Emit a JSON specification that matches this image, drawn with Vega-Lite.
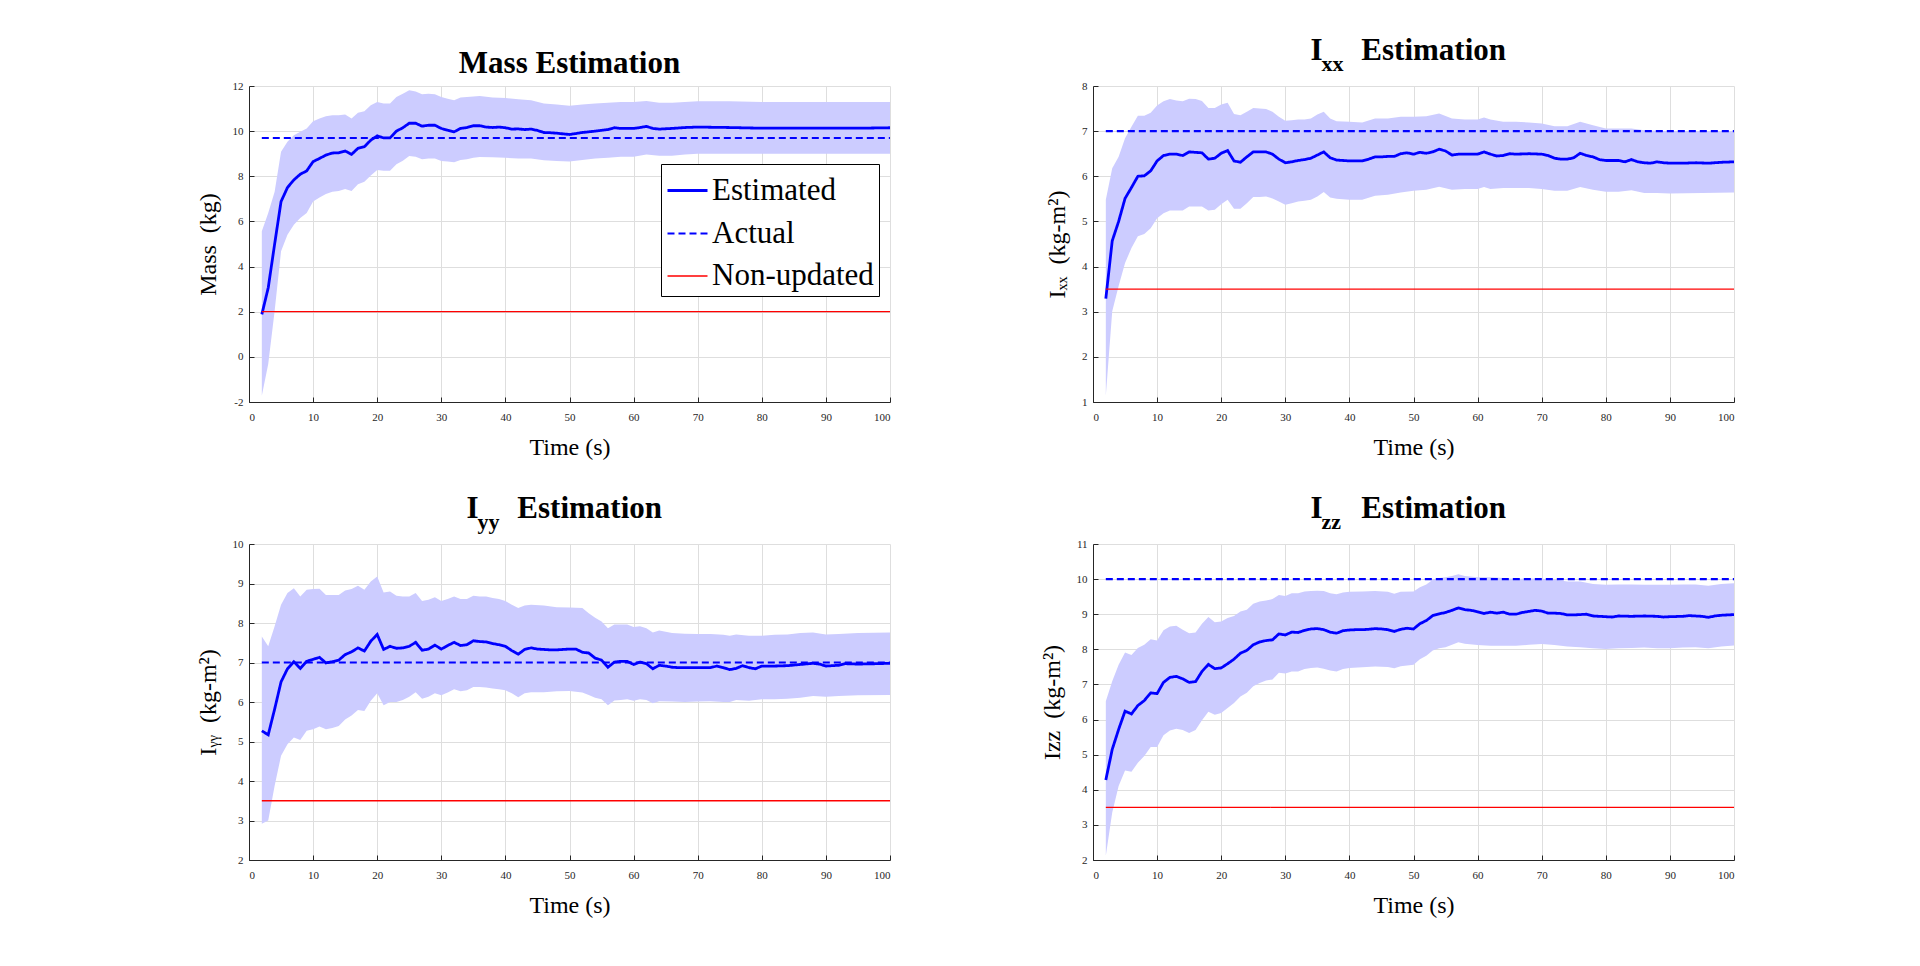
{
  "$schema": "https://vega.github.io/schema/vega-lite/v6.json",
  "background": "white",
  "padding": {"left": 196, "top": 35, "right": 5, "bottom": 5},
  "columns": 2,
  "bounds": "flush",
  "spacing": {"row": 142, "column": 203},
  "datasets": {
    "massBand": [
      {"t":2,"lower":-1.72,"upper":5.56},{"t":3,"lower":-0.32,"upper":6.37},{"t":4,"lower":2.03,"upper":7.32},{"t":5,"lower":4.68,"upper":9.09},
      {"t":6,"lower":5.41,"upper":9.53},{"t":7,"lower":5.85,"upper":9.82},{"t":8,"lower":6.15,"upper":9.97},{"t":9,"lower":6.37,"upper":10.12},
      {"t":10,"lower":6.88,"upper":10.44},{"t":11,"lower":7.06,"upper":10.56},{"t":12,"lower":7.21,"upper":10.66},{"t":13,"lower":7.32,"upper":10.7},
      {"t":14,"lower":7.35,"upper":10.7},{"t":15,"lower":7.44,"upper":10.74},{"t":16,"lower":7.35,"upper":10.56},{"t":17,"lower":7.65,"upper":10.81},
      {"t":18,"lower":7.76,"upper":10.88},{"t":19,"lower":8.03,"upper":11.15},{"t":20,"lower":8.28,"upper":11.29},{"t":21,"lower":8.24,"upper":11.22},
      {"t":22,"lower":8.24,"upper":11.22},{"t":23,"lower":8.53,"upper":11.51},{"t":24,"lower":8.69,"upper":11.66},{"t":25,"lower":8.9,"upper":11.81},
      {"t":26,"lower":8.87,"upper":11.76},{"t":27,"lower":8.75,"upper":11.63},{"t":28,"lower":8.79,"upper":11.66},{"t":29,"lower":8.79,"upper":11.63},
      {"t":30,"lower":8.68,"upper":11.51},{"t":31,"lower":8.65,"upper":11.44},{"t":32,"lower":8.62,"upper":11.37},{"t":33,"lower":8.72,"upper":11.49},
      {"t":34,"lower":8.76,"upper":11.51},{"t":35,"lower":8.82,"upper":11.54},{"t":36,"lower":8.85,"upper":11.56},{"t":38,"lower":8.84,"upper":11.49},
      {"t":40,"lower":8.82,"upper":11.47},{"t":42,"lower":8.79,"upper":11.41},{"t":44,"lower":8.79,"upper":11.37},{"t":46,"lower":8.71,"upper":11.22},
      {"t":48,"lower":8.68,"upper":11.18},{"t":50,"lower":8.65,"upper":11.12},{"t":52,"lower":8.72,"upper":11.18},{"t":54,"lower":8.79,"upper":11.22},
      {"t":56,"lower":8.82,"upper":11.26},{"t":58,"lower":8.87,"upper":11.29},{"t":60,"lower":8.87,"upper":11.29},{"t":62,"lower":8.97,"upper":11.34},
      {"t":64,"lower":8.91,"upper":11.26},{"t":66,"lower":8.91,"upper":11.26},{"t":68,"lower":8.97,"upper":11.29},{"t":70,"lower":9.0,"upper":11.32},
      {"t":75,"lower":9.0,"upper":11.32},{"t":80,"lower":9.0,"upper":11.29},{"t":90,"lower":9.0,"upper":11.29},{"t":100,"lower":9.0,"upper":11.29}
    ],
    "massLine": [
      {"s":"Estimated","t":2,"value":1.88},{"s":"Estimated","t":3,"value":3.06},{"s":"Estimated","t":4,"value":5.0},{"s":"Estimated","t":5,"value":6.88},
      {"s":"Estimated","t":6,"value":7.5},{"s":"Estimated","t":7,"value":7.84},{"s":"Estimated","t":8,"value":8.09},{"s":"Estimated","t":9,"value":8.24},
      {"s":"Estimated","t":10,"value":8.65},{"s":"Estimated","t":11,"value":8.79},{"s":"Estimated","t":12,"value":8.94},{"s":"Estimated","t":13,"value":9.03},
      {"s":"Estimated","t":14,"value":9.04},{"s":"Estimated","t":15,"value":9.12},{"s":"Estimated","t":16,"value":8.97},{"s":"Estimated","t":17,"value":9.24},
      {"s":"Estimated","t":18,"value":9.31},{"s":"Estimated","t":19,"value":9.6},{"s":"Estimated","t":20,"value":9.79},{"s":"Estimated","t":21,"value":9.7},
      {"s":"Estimated","t":22,"value":9.7},{"s":"Estimated","t":23,"value":10.0},{"s":"Estimated","t":24,"value":10.15},{"s":"Estimated","t":25,"value":10.35},
      {"s":"Estimated","t":26,"value":10.35},{"s":"Estimated","t":27,"value":10.22},{"s":"Estimated","t":28,"value":10.26},{"s":"Estimated","t":29,"value":10.26},
      {"s":"Estimated","t":30,"value":10.12},{"s":"Estimated","t":31,"value":10.04},{"s":"Estimated","t":32,"value":9.97},{"s":"Estimated","t":33,"value":10.12},
      {"s":"Estimated","t":34,"value":10.16},{"s":"Estimated","t":35,"value":10.24},{"s":"Estimated","t":36,"value":10.24},{"s":"Estimated","t":37,"value":10.18},
      {"s":"Estimated","t":38,"value":10.16},{"s":"Estimated","t":39,"value":10.18},{"s":"Estimated","t":40,"value":10.15},{"s":"Estimated","t":41,"value":10.09},
      {"s":"Estimated","t":42,"value":10.1},{"s":"Estimated","t":43,"value":10.07},{"s":"Estimated","t":44,"value":10.09},{"s":"Estimated","t":45,"value":10.03},
      {"s":"Estimated","t":46,"value":9.94},{"s":"Estimated","t":47,"value":9.93},{"s":"Estimated","t":48,"value":9.91},{"s":"Estimated","t":49,"value":9.88},
      {"s":"Estimated","t":50,"value":9.85},{"s":"Estimated","t":52,"value":9.94},{"s":"Estimated","t":54,"value":10.0},{"s":"Estimated","t":56,"value":10.07},
      {"s":"Estimated","t":57,"value":10.15},{"s":"Estimated","t":58,"value":10.12},{"s":"Estimated","t":60,"value":10.12},{"s":"Estimated","t":61,"value":10.16},
      {"s":"Estimated","t":62,"value":10.21},{"s":"Estimated","t":63,"value":10.12},{"s":"Estimated","t":64,"value":10.09},{"s":"Estimated","t":66,"value":10.12},
      {"s":"Estimated","t":68,"value":10.16},{"s":"Estimated","t":70,"value":10.18},{"s":"Estimated","t":75,"value":10.16},{"s":"Estimated","t":80,"value":10.13},
      {"s":"Estimated","t":85,"value":10.13},{"s":"Estimated","t":90,"value":10.13},{"s":"Estimated","t":95,"value":10.13},{"s":"Estimated","t":100,"value":10.15},
      {"s":"Actual","t":2,"value":9.7},{"s":"Actual","t":100,"value":9.7},
      {"s":"Non-updated","t":2,"value":2},{"s":"Non-updated","t":100,"value":2}
    ],
    "ixxBand": [
      {"t":2,"lower":1.14,"upper":5.48},{"t":3,"lower":3.01,"upper":6.18},{"t":4,"lower":3.57,"upper":6.43},{"t":5,"lower":4.08,"upper":6.84},
      {"t":6,"lower":4.41,"upper":7.1},{"t":7,"lower":4.67,"upper":7.34},{"t":8,"lower":4.72,"upper":7.34},{"t":9,"lower":4.85,"upper":7.41},
      {"t":10,"lower":5.07,"upper":7.57},{"t":11,"lower":5.18,"upper":7.66},{"t":12,"lower":5.24,"upper":7.71},{"t":13,"lower":5.24,"upper":7.68},
      {"t":14,"lower":5.24,"upper":7.66},{"t":15,"lower":5.33,"upper":7.72},{"t":16,"lower":5.33,"upper":7.71},{"t":17,"lower":5.33,"upper":7.67},
      {"t":18,"lower":5.24,"upper":7.51},{"t":19,"lower":5.26,"upper":7.51},{"t":20,"lower":5.38,"upper":7.59},{"t":21,"lower":5.48,"upper":7.63},
      {"t":22,"lower":5.28,"upper":7.38},{"t":23,"lower":5.28,"upper":7.35},{"t":24,"lower":5.4,"upper":7.43},{"t":25,"lower":5.54,"upper":7.51},
      {"t":26,"lower":5.54,"upper":7.5},{"t":27,"lower":5.55,"upper":7.49},{"t":28,"lower":5.51,"upper":7.43},{"t":29,"lower":5.44,"upper":7.32},
      {"t":30,"lower":5.37,"upper":7.23},{"t":31,"lower":5.4,"upper":7.24},{"t":32,"lower":5.44,"upper":7.26},{"t":33,"lower":5.46,"upper":7.26},
      {"t":34,"lower":5.48,"upper":7.28},{"t":35,"lower":5.55,"upper":7.37},{"t":36,"lower":5.65,"upper":7.43},{"t":37,"lower":5.53,"upper":7.28},
      {"t":38,"lower":5.5,"upper":7.22},{"t":40,"lower":5.48,"upper":7.21},{"t":42,"lower":5.48,"upper":7.19},{"t":44,"lower":5.57,"upper":7.28},
      {"t":46,"lower":5.59,"upper":7.28},{"t":48,"lower":5.64,"upper":7.32},{"t":50,"lower":5.68,"upper":7.32},{"t":52,"lower":5.7,"upper":7.33},
      {"t":54,"lower":5.77,"upper":7.39},{"t":56,"lower":5.7,"upper":7.28},{"t":58,"lower":5.72,"upper":7.26},{"t":60,"lower":5.72,"upper":7.26},
      {"t":61,"lower":5.76,"upper":7.3},{"t":62,"lower":5.72,"upper":7.26},{"t":64,"lower":5.74,"upper":7.21},{"t":66,"lower":5.74,"upper":7.21},
      {"t":68,"lower":5.74,"upper":7.19},{"t":70,"lower":5.72,"upper":7.17},{"t":72,"lower":5.68,"upper":7.11},{"t":74,"lower":5.68,"upper":7.11},
      {"t":76,"lower":5.76,"upper":7.21},{"t":78,"lower":5.7,"upper":7.13},{"t":80,"lower":5.66,"upper":7.06},{"t":82,"lower":5.66,"upper":7.06},
      {"t":84,"lower":5.69,"upper":7.06},{"t":86,"lower":5.63,"upper":7.02},{"t":88,"lower":5.63,"upper":7.01},{"t":90,"lower":5.62,"upper":7.0},
      {"t":95,"lower":5.63,"upper":7.0},{"t":100,"lower":5.64,"upper":7.0}
    ],
    "ixxLine": [
      {"s":"Estimated","t":2,"value":3.29},{"s":"Estimated","t":3,"value":4.57},{"s":"Estimated","t":4,"value":5.0},{"s":"Estimated","t":5,"value":5.51},
      {"s":"Estimated","t":6,"value":5.75},{"s":"Estimated","t":7,"value":6.0},{"s":"Estimated","t":8,"value":6.01},{"s":"Estimated","t":9,"value":6.12},
      {"s":"Estimated","t":10,"value":6.34},{"s":"Estimated","t":11,"value":6.46},{"s":"Estimated","t":12,"value":6.49},{"s":"Estimated","t":13,"value":6.49},
      {"s":"Estimated","t":14,"value":6.46},{"s":"Estimated","t":15,"value":6.54},{"s":"Estimated","t":16,"value":6.53},{"s":"Estimated","t":17,"value":6.52},
      {"s":"Estimated","t":18,"value":6.38},{"s":"Estimated","t":19,"value":6.4},{"s":"Estimated","t":20,"value":6.51},{"s":"Estimated","t":21,"value":6.57},
      {"s":"Estimated","t":22,"value":6.34},{"s":"Estimated","t":23,"value":6.31},{"s":"Estimated","t":24,"value":6.43},{"s":"Estimated","t":25,"value":6.54},
      {"s":"Estimated","t":26,"value":6.54},{"s":"Estimated","t":27,"value":6.54},{"s":"Estimated","t":28,"value":6.49},{"s":"Estimated","t":29,"value":6.38},
      {"s":"Estimated","t":30,"value":6.3},{"s":"Estimated","t":31,"value":6.32},{"s":"Estimated","t":32,"value":6.35},{"s":"Estimated","t":33,"value":6.37},
      {"s":"Estimated","t":34,"value":6.4},{"s":"Estimated","t":35,"value":6.47},{"s":"Estimated","t":36,"value":6.54},{"s":"Estimated","t":37,"value":6.41},
      {"s":"Estimated","t":38,"value":6.36},{"s":"Estimated","t":39,"value":6.35},{"s":"Estimated","t":40,"value":6.34},{"s":"Estimated","t":41,"value":6.34},
      {"s":"Estimated","t":42,"value":6.34},{"s":"Estimated","t":43,"value":6.38},{"s":"Estimated","t":44,"value":6.43},{"s":"Estimated","t":45,"value":6.43},
      {"s":"Estimated","t":46,"value":6.44},{"s":"Estimated","t":47,"value":6.44},{"s":"Estimated","t":48,"value":6.5},{"s":"Estimated","t":49,"value":6.52},
      {"s":"Estimated","t":50,"value":6.49},{"s":"Estimated","t":51,"value":6.53},{"s":"Estimated","t":52,"value":6.51},{"s":"Estimated","t":53,"value":6.54},
      {"s":"Estimated","t":54,"value":6.6},{"s":"Estimated","t":55,"value":6.56},{"s":"Estimated","t":56,"value":6.47},{"s":"Estimated","t":57,"value":6.49},
      {"s":"Estimated","t":58,"value":6.49},{"s":"Estimated","t":59,"value":6.49},{"s":"Estimated","t":60,"value":6.49},{"s":"Estimated","t":61,"value":6.54},
      {"s":"Estimated","t":62,"value":6.49},{"s":"Estimated","t":63,"value":6.45},{"s":"Estimated","t":64,"value":6.46},{"s":"Estimated","t":65,"value":6.5},
      {"s":"Estimated","t":66,"value":6.49},{"s":"Estimated","t":68,"value":6.5},{"s":"Estimated","t":70,"value":6.49},{"s":"Estimated","t":71,"value":6.46},
      {"s":"Estimated","t":72,"value":6.4},{"s":"Estimated","t":73,"value":6.38},{"s":"Estimated","t":74,"value":6.38},{"s":"Estimated","t":75,"value":6.41},
      {"s":"Estimated","t":76,"value":6.51},{"s":"Estimated","t":77,"value":6.46},{"s":"Estimated","t":78,"value":6.43},{"s":"Estimated","t":79,"value":6.37},
      {"s":"Estimated","t":80,"value":6.35},{"s":"Estimated","t":81,"value":6.35},{"s":"Estimated","t":82,"value":6.35},{"s":"Estimated","t":83,"value":6.32},
      {"s":"Estimated","t":84,"value":6.37},{"s":"Estimated","t":85,"value":6.32},{"s":"Estimated","t":86,"value":6.3},{"s":"Estimated","t":87,"value":6.29},
      {"s":"Estimated","t":88,"value":6.32},{"s":"Estimated","t":89,"value":6.3},{"s":"Estimated","t":90,"value":6.29},{"s":"Estimated","t":92,"value":6.29},
      {"s":"Estimated","t":94,"value":6.3},{"s":"Estimated","t":96,"value":6.29},{"s":"Estimated","t":98,"value":6.31},{"s":"Estimated","t":100,"value":6.32},
      {"s":"Actual","t":2,"value":7},{"s":"Actual","t":100,"value":7},
      {"s":"Non-updated","t":2,"value":3.5},{"s":"Non-updated","t":100,"value":3.5}
    ],
    "iyyBand": [
      {"t":2,"lower":2.92,"upper":7.66},{"t":3,"lower":3.0,"upper":7.41},{"t":4,"lower":3.88,"upper":7.92},{"t":5,"lower":4.64,"upper":8.46},
      {"t":6,"lower":4.93,"upper":8.76},{"t":7,"lower":5.1,"upper":8.88},{"t":8,"lower":5.04,"upper":8.67},{"t":9,"lower":5.27,"upper":8.84},
      {"t":10,"lower":5.31,"upper":8.86},{"t":11,"lower":5.38,"upper":8.87},{"t":12,"lower":5.31,"upper":8.71},{"t":13,"lower":5.34,"upper":8.71},
      {"t":14,"lower":5.39,"upper":8.71},{"t":15,"lower":5.56,"upper":8.82},{"t":16,"lower":5.66,"upper":8.86},{"t":17,"lower":5.8,"upper":8.94},
      {"t":18,"lower":5.77,"upper":8.84},{"t":19,"lower":6.03,"upper":9.05},{"t":20,"lower":6.22,"upper":9.18},{"t":21,"lower":5.92,"upper":8.77},
      {"t":22,"lower":6.0,"upper":8.8},{"t":23,"lower":6.0,"upper":8.69},{"t":24,"lower":6.05,"upper":8.67},{"t":25,"lower":6.13,"upper":8.67},
      {"t":26,"lower":6.25,"upper":8.76},{"t":27,"lower":6.08,"upper":8.56},{"t":28,"lower":6.13,"upper":8.59},{"t":29,"lower":6.22,"upper":8.65},
      {"t":30,"lower":6.17,"upper":8.56},{"t":31,"lower":6.24,"upper":8.61},{"t":32,"lower":6.32,"upper":8.67},{"t":33,"lower":6.27,"upper":8.61},
      {"t":34,"lower":6.3,"upper":8.61},{"t":35,"lower":6.38,"upper":8.69},{"t":36,"lower":6.38,"upper":8.67},{"t":37,"lower":6.37,"upper":8.67},
      {"t":38,"lower":6.34,"upper":8.63},{"t":39,"lower":6.32,"upper":8.61},{"t":40,"lower":6.3,"upper":8.56},{"t":41,"lower":6.22,"upper":8.46},
      {"t":42,"lower":6.12,"upper":8.38},{"t":43,"lower":6.22,"upper":8.44},{"t":44,"lower":6.25,"upper":8.46},{"t":46,"lower":6.25,"upper":8.44},
      {"t":48,"lower":6.27,"upper":8.4},{"t":50,"lower":6.28,"upper":8.39},{"t":52,"lower":6.24,"upper":8.38},{"t":53,"lower":6.18,"upper":8.25},
      {"t":54,"lower":6.11,"upper":8.13},{"t":55,"lower":6.07,"upper":8.04},{"t":56,"lower":5.92,"upper":7.87},{"t":57,"lower":6.04,"upper":7.96},
      {"t":58,"lower":6.05,"upper":7.96},{"t":59,"lower":6.07,"upper":7.96},{"t":60,"lower":6.03,"upper":7.9},{"t":61,"lower":6.07,"upper":7.92},
      {"t":62,"lower":6.05,"upper":7.87},{"t":63,"lower":5.97,"upper":7.76},{"t":64,"lower":6.02,"upper":7.81},{"t":66,"lower":6.01,"upper":7.75},
      {"t":68,"lower":6.0,"upper":7.73},{"t":70,"lower":6.01,"upper":7.72},{"t":72,"lower":6.02,"upper":7.72},{"t":74,"lower":6.0,"upper":7.7},
      {"t":75,"lower":6.0,"upper":7.68},{"t":76,"lower":6.05,"upper":7.71},{"t":78,"lower":6.03,"upper":7.68},{"t":80,"lower":6.07,"upper":7.68},
      {"t":82,"lower":6.07,"upper":7.7},{"t":84,"lower":6.08,"upper":7.71},{"t":86,"lower":6.11,"upper":7.75},{"t":88,"lower":6.15,"upper":7.76},
      {"t":90,"lower":6.13,"upper":7.71},{"t":92,"lower":6.15,"upper":7.72},{"t":95,"lower":6.17,"upper":7.75},{"t":100,"lower":6.18,"upper":7.76}
    ],
    "iyyLine": [
      {"s":"Estimated","t":2,"value":5.27},{"s":"Estimated","t":3,"value":5.17},{"s":"Estimated","t":4,"value":5.82},{"s":"Estimated","t":5,"value":6.51},
      {"s":"Estimated","t":6,"value":6.84},{"s":"Estimated","t":7,"value":7.02},{"s":"Estimated","t":8,"value":6.85},{"s":"Estimated","t":9,"value":7.03},
      {"s":"Estimated","t":10,"value":7.08},{"s":"Estimated","t":11,"value":7.13},{"s":"Estimated","t":12,"value":6.99},{"s":"Estimated","t":13,"value":7.02},
      {"s":"Estimated","t":14,"value":7.06},{"s":"Estimated","t":15,"value":7.2},{"s":"Estimated","t":16,"value":7.27},{"s":"Estimated","t":17,"value":7.37},
      {"s":"Estimated","t":18,"value":7.29},{"s":"Estimated","t":19,"value":7.54},{"s":"Estimated","t":20,"value":7.71},{"s":"Estimated","t":21,"value":7.33},
      {"s":"Estimated","t":22,"value":7.41},{"s":"Estimated","t":23,"value":7.36},{"s":"Estimated","t":24,"value":7.37},{"s":"Estimated","t":25,"value":7.41},
      {"s":"Estimated","t":26,"value":7.51},{"s":"Estimated","t":27,"value":7.31},{"s":"Estimated","t":28,"value":7.34},{"s":"Estimated","t":29,"value":7.44},
      {"s":"Estimated","t":30,"value":7.34},{"s":"Estimated","t":31,"value":7.43},{"s":"Estimated","t":32,"value":7.51},{"s":"Estimated","t":33,"value":7.43},
      {"s":"Estimated","t":34,"value":7.45},{"s":"Estimated","t":35,"value":7.55},{"s":"Estimated","t":36,"value":7.53},{"s":"Estimated","t":37,"value":7.52},
      {"s":"Estimated","t":38,"value":7.48},{"s":"Estimated","t":39,"value":7.45},{"s":"Estimated","t":40,"value":7.41},{"s":"Estimated","t":41,"value":7.3},
      {"s":"Estimated","t":42,"value":7.21},{"s":"Estimated","t":43,"value":7.33},{"s":"Estimated","t":44,"value":7.37},{"s":"Estimated","t":45,"value":7.34},
      {"s":"Estimated","t":46,"value":7.33},{"s":"Estimated","t":47,"value":7.32},{"s":"Estimated","t":48,"value":7.32},{"s":"Estimated","t":49,"value":7.33},
      {"s":"Estimated","t":50,"value":7.34},{"s":"Estimated","t":51,"value":7.34},{"s":"Estimated","t":52,"value":7.26},{"s":"Estimated","t":53,"value":7.24},
      {"s":"Estimated","t":54,"value":7.11},{"s":"Estimated","t":55,"value":7.06},{"s":"Estimated","t":56,"value":6.88},{"s":"Estimated","t":57,"value":7.01},
      {"s":"Estimated","t":58,"value":7.03},{"s":"Estimated","t":59,"value":7.03},{"s":"Estimated","t":60,"value":6.95},{"s":"Estimated","t":61,"value":7.01},
      {"s":"Estimated","t":62,"value":6.97},{"s":"Estimated","t":63,"value":6.84},{"s":"Estimated","t":64,"value":6.93},{"s":"Estimated","t":65,"value":6.91},
      {"s":"Estimated","t":66,"value":6.88},{"s":"Estimated","t":67,"value":6.87},{"s":"Estimated","t":68,"value":6.87},{"s":"Estimated","t":70,"value":6.87},
      {"s":"Estimated","t":72,"value":6.87},{"s":"Estimated","t":73,"value":6.91},{"s":"Estimated","t":74,"value":6.87},{"s":"Estimated","t":75,"value":6.82},
      {"s":"Estimated","t":76,"value":6.85},{"s":"Estimated","t":77,"value":6.92},{"s":"Estimated","t":78,"value":6.87},{"s":"Estimated","t":79,"value":6.84},
      {"s":"Estimated","t":80,"value":6.91},{"s":"Estimated","t":82,"value":6.91},{"s":"Estimated","t":84,"value":6.92},{"s":"Estimated","t":86,"value":6.95},
      {"s":"Estimated","t":88,"value":6.98},{"s":"Estimated","t":89,"value":6.96},{"s":"Estimated","t":90,"value":6.91},{"s":"Estimated","t":92,"value":6.93},
      {"s":"Estimated","t":93,"value":6.97},{"s":"Estimated","t":95,"value":6.96},{"s":"Estimated","t":98,"value":6.97},{"s":"Estimated","t":100,"value":6.98},
      {"s":"Actual","t":2,"value":7},{"s":"Actual","t":100,"value":7},
      {"s":"Non-updated","t":2,"value":3.5},{"s":"Non-updated","t":100,"value":3.5}
    ],
    "izzBand": [
      {"t":2,"lower":2.12,"upper":6.52},{"t":3,"lower":3.35,"upper":7.09},{"t":4,"lower":4.11,"upper":7.56},{"t":5,"lower":4.55,"upper":7.91},
      {"t":6,"lower":4.51,"upper":7.84},{"t":7,"lower":4.77,"upper":8.04},{"t":8,"lower":4.96,"upper":8.13},{"t":9,"lower":5.22,"upper":8.29},
      {"t":10,"lower":5.22,"upper":8.25},{"t":11,"lower":5.55,"upper":8.54},{"t":12,"lower":5.69,"upper":8.65},{"t":13,"lower":5.74,"upper":8.67},
      {"t":14,"lower":5.7,"upper":8.56},{"t":15,"lower":5.62,"upper":8.46},{"t":16,"lower":5.7,"upper":8.48},{"t":17,"lower":5.98,"upper":8.73},
      {"t":18,"lower":6.22,"upper":8.92},{"t":19,"lower":6.14,"upper":8.77},{"t":20,"lower":6.19,"upper":8.79},{"t":21,"lower":6.33,"upper":8.89},
      {"t":22,"lower":6.47,"upper":8.95},{"t":23,"lower":6.66,"upper":9.08},{"t":24,"lower":6.76,"upper":9.13},{"t":25,"lower":6.95,"upper":9.3},
      {"t":26,"lower":7.04,"upper":9.36},{"t":27,"lower":7.11,"upper":9.39},{"t":28,"lower":7.14,"upper":9.43},{"t":29,"lower":7.33,"upper":9.55},
      {"t":30,"lower":7.31,"upper":9.52},{"t":31,"lower":7.37,"upper":9.6},{"t":32,"lower":7.37,"upper":9.6},{"t":33,"lower":7.44,"upper":9.65},
      {"t":34,"lower":7.47,"upper":9.66},{"t":35,"lower":7.48,"upper":9.67},{"t":36,"lower":7.45,"upper":9.66},{"t":37,"lower":7.4,"upper":9.6},
      {"t":38,"lower":7.37,"upper":9.57},{"t":39,"lower":7.44,"upper":9.62},{"t":40,"lower":7.47,"upper":9.64},{"t":42,"lower":7.49,"upper":9.65},
      {"t":44,"lower":7.51,"upper":9.66},{"t":46,"lower":7.5,"upper":9.64},{"t":47,"lower":7.46,"upper":9.58},{"t":48,"lower":7.52,"upper":9.64},
      {"t":50,"lower":7.56,"upper":9.65},{"t":51,"lower":7.72,"upper":9.77},{"t":52,"lower":7.82,"upper":9.85},{"t":53,"lower":7.97,"upper":9.98},
      {"t":54,"lower":8.03,"upper":10.03},{"t":55,"lower":8.06,"upper":10.05},{"t":56,"lower":8.13,"upper":10.09},{"t":57,"lower":8.2,"upper":10.14},
      {"t":58,"lower":8.16,"upper":10.09},{"t":60,"lower":8.12,"upper":10.05},{"t":62,"lower":8.1,"upper":10.05},{"t":64,"lower":8.1,"upper":10.03},
      {"t":66,"lower":8.1,"upper":10.0},{"t":68,"lower":8.13,"upper":10.02},{"t":70,"lower":8.15,"upper":10.01},{"t":72,"lower":8.12,"upper":9.98},
      {"t":74,"lower":8.08,"upper":9.93},{"t":76,"lower":8.06,"upper":9.93},{"t":78,"lower":8.03,"upper":9.86},{"t":80,"lower":8.01,"upper":9.84},
      {"t":82,"lower":8.03,"upper":9.85},{"t":84,"lower":8.04,"upper":9.85},{"t":86,"lower":8.05,"upper":9.84},{"t":88,"lower":8.03,"upper":9.84},
      {"t":90,"lower":8.03,"upper":9.84},{"t":92,"lower":8.05,"upper":9.85},{"t":94,"lower":8.06,"upper":9.85},{"t":96,"lower":8.03,"upper":9.81},
      {"t":98,"lower":8.08,"upper":9.86},{"t":100,"lower":8.11,"upper":9.88}
    ],
    "izzLine": [
      {"s":"Estimated","t":2,"value":4.28},{"s":"Estimated","t":3,"value":5.15},{"s":"Estimated","t":4,"value":5.72},{"s":"Estimated","t":5,"value":6.24},
      {"s":"Estimated","t":6,"value":6.16},{"s":"Estimated","t":7,"value":6.4},{"s":"Estimated","t":8,"value":6.54},{"s":"Estimated","t":9,"value":6.76},
      {"s":"Estimated","t":10,"value":6.74},{"s":"Estimated","t":11,"value":7.06},{"s":"Estimated","t":12,"value":7.2},{"s":"Estimated","t":13,"value":7.23},
      {"s":"Estimated","t":14,"value":7.16},{"s":"Estimated","t":15,"value":7.06},{"s":"Estimated","t":16,"value":7.08},{"s":"Estimated","t":17,"value":7.37},
      {"s":"Estimated","t":18,"value":7.57},{"s":"Estimated","t":19,"value":7.45},{"s":"Estimated","t":20,"value":7.47},{"s":"Estimated","t":21,"value":7.59},
      {"s":"Estimated","t":22,"value":7.72},{"s":"Estimated","t":23,"value":7.89},{"s":"Estimated","t":24,"value":7.97},{"s":"Estimated","t":25,"value":8.13},
      {"s":"Estimated","t":26,"value":8.21},{"s":"Estimated","t":27,"value":8.25},{"s":"Estimated","t":28,"value":8.27},{"s":"Estimated","t":29,"value":8.44},
      {"s":"Estimated","t":30,"value":8.41},{"s":"Estimated","t":31,"value":8.49},{"s":"Estimated","t":32,"value":8.48},{"s":"Estimated","t":33,"value":8.54},
      {"s":"Estimated","t":34,"value":8.58},{"s":"Estimated","t":35,"value":8.59},{"s":"Estimated","t":36,"value":8.56},{"s":"Estimated","t":37,"value":8.49},
      {"s":"Estimated","t":38,"value":8.46},{"s":"Estimated","t":39,"value":8.53},{"s":"Estimated","t":40,"value":8.55},{"s":"Estimated","t":41,"value":8.56},
      {"s":"Estimated","t":42,"value":8.56},{"s":"Estimated","t":43,"value":8.57},{"s":"Estimated","t":44,"value":8.59},{"s":"Estimated","t":45,"value":8.58},
      {"s":"Estimated","t":46,"value":8.56},{"s":"Estimated","t":47,"value":8.51},{"s":"Estimated","t":48,"value":8.57},{"s":"Estimated","t":49,"value":8.6},
      {"s":"Estimated","t":50,"value":8.58},{"s":"Estimated","t":51,"value":8.73},{"s":"Estimated","t":52,"value":8.82},{"s":"Estimated","t":53,"value":8.96},
      {"s":"Estimated","t":54,"value":9.01},{"s":"Estimated","t":55,"value":9.05},{"s":"Estimated","t":56,"value":9.11},{"s":"Estimated","t":57,"value":9.18},
      {"s":"Estimated","t":58,"value":9.13},{"s":"Estimated","t":59,"value":9.11},{"s":"Estimated","t":60,"value":9.07},{"s":"Estimated","t":61,"value":9.02},
      {"s":"Estimated","t":62,"value":9.06},{"s":"Estimated","t":63,"value":9.03},{"s":"Estimated","t":64,"value":9.06},{"s":"Estimated","t":65,"value":9.0},
      {"s":"Estimated","t":66,"value":9.0},{"s":"Estimated","t":67,"value":9.05},{"s":"Estimated","t":68,"value":9.08},{"s":"Estimated","t":69,"value":9.11},
      {"s":"Estimated","t":70,"value":9.09},{"s":"Estimated","t":71,"value":9.03},{"s":"Estimated","t":72,"value":9.03},{"s":"Estimated","t":73,"value":9.02},
      {"s":"Estimated","t":74,"value":8.98},{"s":"Estimated","t":75,"value":8.98},{"s":"Estimated","t":76,"value":8.99},{"s":"Estimated","t":77,"value":9.0},
      {"s":"Estimated","t":78,"value":8.95},{"s":"Estimated","t":79,"value":8.94},{"s":"Estimated","t":80,"value":8.93},{"s":"Estimated","t":81,"value":8.92},
      {"s":"Estimated","t":82,"value":8.95},{"s":"Estimated","t":84,"value":8.94},{"s":"Estimated","t":86,"value":8.95},{"s":"Estimated","t":88,"value":8.94},
      {"s":"Estimated","t":89,"value":8.92},{"s":"Estimated","t":90,"value":8.93},{"s":"Estimated","t":92,"value":8.94},{"s":"Estimated","t":93,"value":8.96},
      {"s":"Estimated","t":95,"value":8.94},{"s":"Estimated","t":96,"value":8.91},{"s":"Estimated","t":97,"value":8.95},{"s":"Estimated","t":98,"value":8.97},
      {"s":"Estimated","t":100,"value":8.99},
      {"s":"Actual","t":2,"value":10},{"s":"Actual","t":100,"value":10},
      {"s":"Non-updated","t":2,"value":3.5},{"s":"Non-updated","t":100,"value":3.5}
    ]
  },
  "concat": [
    {
      "width": 641,
      "height": 316,
      "title": {"text": "Mass Estimation", "anchor": "middle", "offset": 0},
      "layer": [
        {
          "data": {"name": "massBand"},
          "mark": {"type": "area", "color": "#ccccff", "opacity": 1},
          "encoding": {
            "x": {"field": "t", "type": "quantitative", "scale": {"domain": [0, 100], "nice": false},
                  "axis": {"title": "Time (s)", "values": [0, 10, 20, 30, 40, 50, 60, 70, 80, 90, 100], "tickCount": 20, "labelExpr": "'' + datum.value"}},
            "y": {"field": "lower", "type": "quantitative", "scale": {"domain": [-2, 12], "nice": false},
                  "axis": {"title": "Mass\u00a0 (kg)", "values": [-2, 0, 2, 4, 6, 8, 10, 12], "tickCount": 20, "labelExpr": "'' + datum.value"}},
            "y2": {"field": "upper"}
          }
        },
        {
          "data": {"name": "massLine"},
          "mark": {"type": "line"},
          "encoding": {
            "x": {"field": "t", "type": "quantitative", "scale": {"domain": [0, 100], "nice": false}},
            "y": {"field": "value", "type": "quantitative", "scale": {"domain": [-2, 12], "nice": false}},
            "color": {"field": "s", "type": "nominal",
                      "scale": {"domain": ["Estimated", "Actual", "Non-updated"], "range": ["#0000ff", "#0000ff", "#ff0000"]},
                      "legend": {"title": null, "orient": "none", "legendX": 412, "legendY": 78}},
            "strokeDash": {"field": "s", "type": "nominal",
                           "scale": {"domain": ["Estimated", "Actual", "Non-updated"], "range": [[1, 0], [7, 4], [1, 0]]},
                           "legend": {"title": null, "orient": "none", "legendX": 412, "legendY": 78}},
            "strokeWidth": {"field": "s", "type": "nominal",
                            "scale": {"domain": ["Estimated", "Actual", "Non-updated"], "range": [2.8, 1.3, 1.2]},
                            "legend": {"title": null, "orient": "none", "legendX": 412, "legendY": 78}}
          }
        }
      ]
    },
    {
      "width": 641,
      "height": 316,
      "title": {"text": "I\u00a0\u00a0\u00a0\u00a0\u00a0Estimation", "subtitle": "\u200b\u00a0\u00a0xx", "anchor": "middle", "align": "left", "dx": -103, "offset": 4, "subtitlePadding": -13},
      "layer": [
        {
          "data": {"name": "ixxBand"},
          "mark": {"type": "area", "color": "#ccccff", "opacity": 1},
          "encoding": {
            "x": {"field": "t", "type": "quantitative", "scale": {"domain": [0, 100], "nice": false},
                  "axis": {"title": "Time (s)", "values": [0, 10, 20, 30, 40, 50, 60, 70, 80, 90, 100], "tickCount": 20, "labelExpr": "'' + datum.value"}},
            "y": {"field": "lower", "type": "quantitative", "scale": {"domain": [1, 8], "nice": false},
                  "axis": {"title": "Iₓₓ\u00a0 (kg-m²)", "values": [1, 2, 3, 4, 5, 6, 7, 8], "tickCount": 20, "labelExpr": "'' + datum.value"}},
            "y2": {"field": "upper"}
          }
        },
        {
          "data": {"name": "ixxLine"},
          "mark": {"type": "line"},
          "encoding": {
            "x": {"field": "t", "type": "quantitative", "scale": {"domain": [0, 100], "nice": false}},
            "y": {"field": "value", "type": "quantitative", "scale": {"domain": [1, 8], "nice": false}},
            "color": {"field": "s", "type": "nominal",
                      "scale": {"domain": ["Estimated", "Actual", "Non-updated"], "range": ["#0000ff", "#0000ff", "#ff0000"]}, "legend": null},
            "strokeDash": {"field": "s", "type": "nominal",
                           "scale": {"domain": ["Estimated", "Actual", "Non-updated"], "range": [[1, 0], [7, 4], [1, 0]]}, "legend": null},
            "strokeWidth": {"field": "s", "type": "nominal",
                            "scale": {"domain": ["Estimated", "Actual", "Non-updated"], "range": [2.8, 1.3, 1.2]}, "legend": null}
          }
        }
      ]
    },
    {
      "width": 641,
      "height": 316,
      "title": {"text": "I\u00a0\u00a0\u00a0\u00a0\u00a0Estimation", "subtitle": "\u200b\u00a0\u00a0yy", "anchor": "middle", "align": "left", "dx": -103, "offset": 4, "subtitlePadding": -13},
      "layer": [
        {
          "data": {"name": "iyyBand"},
          "mark": {"type": "area", "color": "#ccccff", "opacity": 1},
          "encoding": {
            "x": {"field": "t", "type": "quantitative", "scale": {"domain": [0, 100], "nice": false},
                  "axis": {"title": "Time (s)", "values": [0, 10, 20, 30, 40, 50, 60, 70, 80, 90, 100], "tickCount": 20, "labelExpr": "'' + datum.value"}},
            "y": {"field": "lower", "type": "quantitative", "scale": {"domain": [2, 10], "nice": false},
                  "axis": {"title": "Iᵧᵧ\u00a0 (kg-m²)", "values": [2, 3, 4, 5, 6, 7, 8, 9, 10], "tickCount": 20, "labelExpr": "'' + datum.value"}},
            "y2": {"field": "upper"}
          }
        },
        {
          "data": {"name": "iyyLine"},
          "mark": {"type": "line"},
          "encoding": {
            "x": {"field": "t", "type": "quantitative", "scale": {"domain": [0, 100], "nice": false}},
            "y": {"field": "value", "type": "quantitative", "scale": {"domain": [2, 10], "nice": false}},
            "color": {"field": "s", "type": "nominal",
                      "scale": {"domain": ["Estimated", "Actual", "Non-updated"], "range": ["#0000ff", "#0000ff", "#ff0000"]}, "legend": null},
            "strokeDash": {"field": "s", "type": "nominal",
                           "scale": {"domain": ["Estimated", "Actual", "Non-updated"], "range": [[1, 0], [7, 4], [1, 0]]}, "legend": null},
            "strokeWidth": {"field": "s", "type": "nominal",
                            "scale": {"domain": ["Estimated", "Actual", "Non-updated"], "range": [2.8, 1.3, 1.2]}, "legend": null}
          }
        }
      ]
    },
    {
      "width": 641,
      "height": 316,
      "title": {"text": "I\u00a0\u00a0\u00a0\u00a0\u00a0Estimation", "subtitle": "\u200b\u00a0\u00a0zz", "anchor": "middle", "align": "left", "dx": -103, "offset": 4, "subtitlePadding": -13},
      "layer": [
        {
          "data": {"name": "izzBand"},
          "mark": {"type": "area", "color": "#ccccff", "opacity": 1},
          "encoding": {
            "x": {"field": "t", "type": "quantitative", "scale": {"domain": [0, 100], "nice": false},
                  "axis": {"title": "Time (s)", "values": [0, 10, 20, 30, 40, 50, 60, 70, 80, 90, 100], "tickCount": 20, "labelExpr": "'' + datum.value"}},
            "y": {"field": "lower", "type": "quantitative", "scale": {"domain": [2, 11], "nice": false},
                  "axis": {"title": "Izz\u00a0 (kg-m²)", "values": [2, 3, 4, 5, 6, 7, 8, 9, 10, 11], "tickCount": 20, "labelExpr": "'' + datum.value"}},
            "y2": {"field": "upper"}
          }
        },
        {
          "data": {"name": "izzLine"},
          "mark": {"type": "line"},
          "encoding": {
            "x": {"field": "t", "type": "quantitative", "scale": {"domain": [0, 100], "nice": false}},
            "y": {"field": "value", "type": "quantitative", "scale": {"domain": [2, 11], "nice": false}},
            "color": {"field": "s", "type": "nominal",
                      "scale": {"domain": ["Estimated", "Actual", "Non-updated"], "range": ["#0000ff", "#0000ff", "#ff0000"]}, "legend": null},
            "strokeDash": {"field": "s", "type": "nominal",
                           "scale": {"domain": ["Estimated", "Actual", "Non-updated"], "range": [[1, 0], [7, 4], [1, 0]]}, "legend": null},
            "strokeWidth": {"field": "s", "type": "nominal",
                            "scale": {"domain": ["Estimated", "Actual", "Non-updated"], "range": [2.8, 1.3, 1.2]}, "legend": null}
          }
        }
      ]
    }
  ],
  "resolve": {
    "scale": {"x": "independent", "y": "independent", "color": "independent", "strokeDash": "independent", "strokeWidth": "independent"},
    "legend": {"color": "independent", "strokeDash": "independent", "strokeWidth": "independent"}
  },
  "config": {
    "view": {"stroke": null},
    "font": "Liberation Serif",
    "axis": {
      "domainColor": "#262626", "domainWidth": 1, "tickColor": "#262626", "tickSize": -5, "labelOverlap": false,
      "gridColor": "#dedede", "gridWidth": 1,
      "labelFont": "Liberation Serif", "labelFontSize": 11, "labelColor": "#262626",
      "titleFont": "Liberation Serif", "titleFontSize": 24, "titleFontWeight": "normal", "titleColor": "#000000"
    },
    "axisX": {"labelPadding": 14, "titlePadding": 13},
    "axisY": {"labelPadding": 11, "titlePadding": 12},
    "title": {
      "font": "Liberation Serif", "fontSize": 31, "fontWeight": "bold", "color": "#000000", "frame": "group",
      "subtitleFont": "Liberation Serif", "subtitleFontSize": 22, "subtitleFontWeight": "bold", "subtitleColor": "#000000"
    },
    "legend": {
      "labelFont": "Liberation Serif", "labelFontSize": 31, "labelColor": "#000000", "labelOffset": 3, "labelLimit": 400,
      "symbolType": "stroke", "symbolSize": 1600, "strokeColor": "#000000", "fillColor": "#ffffff",
      "padding": 5, "rowPadding": 6, "cornerRadius": 0
    }
  }
}
